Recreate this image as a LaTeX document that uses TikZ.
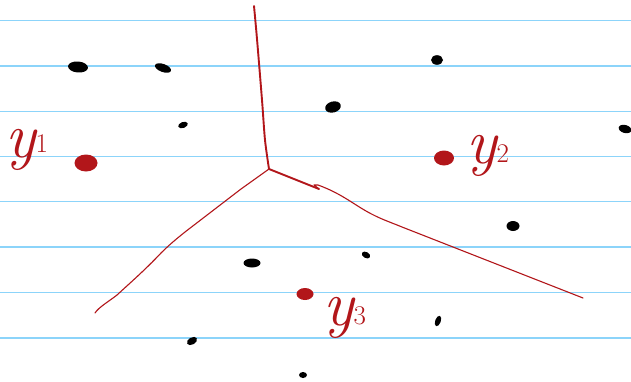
\documentclass[tikz,border=0pt]{standalone}
\usetikzlibrary{shapes.geometric}
\definecolor{ruled}{RGB}{140,212,250}
\definecolor{ink}{RGB}{178,22,26}
\tikzset{
  ruleline/.style={ruled, line width=1.3pt},
  site/.style={ellipse, fill=ink, draw=none, inner sep=0pt},
  edgethick/.style={ink, line width=1.9pt, line cap=round, line join=round},
  edgethin/.style={ink, line width=1.1pt, line cap=round, line join=round},
  blob/.style={fill=black},
  lbl/.style={text=ink, inner sep=0pt, anchor=base west},
}
\newcommand{\siteLabel}[2]{{\fontsize{64}{64}\selectfont\itshape y}\raisebox{#2}{\fontsize{27}{27}\selectfont #1}}
\begin{document}
\begin{tikzpicture}[x=1pt,y=-1pt]
\useasboundingbox (0,0) rectangle (631,381);
\fill[white] (0,0) rectangle (631,381);
% ruled lines
\foreach \yy in {20.5,66,111.5,156.5,201.5,247,292.5,338}
  \draw[ruleline] (0,\yy) -- (631,\yy);
% black points
\fill[blob,rotate around={-5:(78,67)}] (78,67) ellipse [x radius=10pt, y radius=5.5pt];
\fill[blob,rotate around={-20:(163,68)}] (163,68) ellipse [x radius=8.5pt, y radius=4pt];
\fill[blob,rotate around={20:(183,125)}] (183,125) ellipse [x radius=5pt, y radius=3pt];
\fill[blob] (437,60) ellipse [x radius=6pt, y radius=4.8pt];
\fill[blob,rotate around={15:(333,107)}] (333,107) ellipse [x radius=8pt, y radius=5.5pt];
\fill[blob,rotate around={-15:(625,129)}] (625,129) ellipse [x radius=6.5pt, y radius=4pt];
\fill[blob] (513,226) ellipse [x radius=6.5pt, y radius=5pt];
\fill[blob] (252,263) ellipse [x radius=8.5pt, y radius=4.5pt];
\fill[blob,rotate around={-30:(366,255)}] (366,255) ellipse [x radius=4.5pt, y radius=3pt];
\fill[blob,rotate around={70:(438,321)}] (438,321) ellipse [x radius=5.5pt, y radius=2.8pt];
\fill[blob,rotate around={30:(192,341)}] (192,341) ellipse [x radius=5.5pt, y radius=3.5pt];
\fill[blob] (303,375) ellipse [x radius=4pt, y radius=3pt];
% sites
\node[site, minimum width=23pt, minimum height=17pt] (s1) at (86,163) {};
\node[site, minimum width=20pt, minimum height=15pt] (s2) at (444,158) {};
\node[site, minimum width=17pt, minimum height=12pt] (s3) at (305,294) {};
% labels
\node[lbl] (y1) at (5,157) {\siteLabel{1}{5pt}};
\node[lbl] (y2) at (466,163) {\siteLabel{2}{1pt}};
\node[lbl] (y3) at (323,325) {\siteLabel{3}{1pt}};
% bisector edges
\coordinate (J) at (269,169);
\coordinate (top) at (254,6);
\coordinate (bl) at (95,313);
\coordinate (hk) at (319,189);
\coordinate (br) at (583,298);
\draw[edgethick] plot[smooth] coordinates {(top) (257,39) (262,100) (265,140) (J)};
\draw[edgethick] (J) -- (hk);
\draw[edgethin] (hk) -- (314,185) -- (318,185)
  .. controls (340,193) and (352,203) .. (366,211)
  .. controls (380,219) and (390,222) .. (402,227) -- (br);
\draw[edgethin] (J) -- (241,189) -- (185,232)
  .. controls (175,240) and (168,246) .. (161,253)
  .. controls (145,270) and (130,283) .. (117,295)
  .. controls (108,302) and (99,307) .. (bl);
\end{tikzpicture}
\end{document}
